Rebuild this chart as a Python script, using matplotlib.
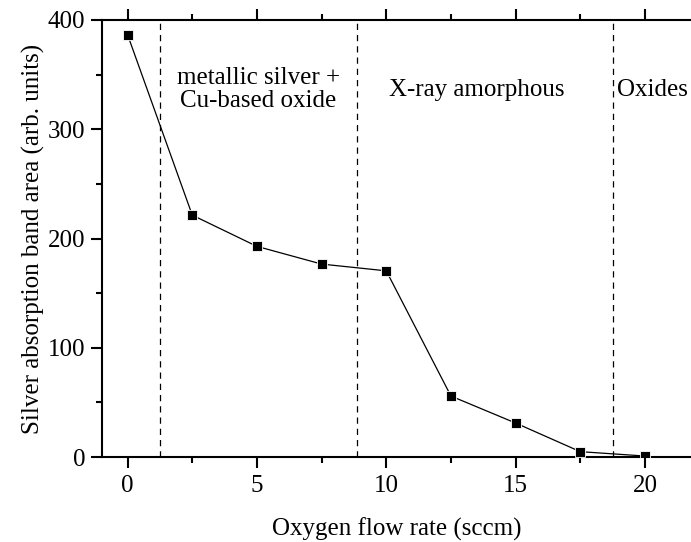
import matplotlib
matplotlib.use('Agg')
import matplotlib.pyplot as plt
from matplotlib.ticker import MultipleLocator

# Data
flow_rate = [0, 2.5, 5, 7.5, 10, 12.5, 15, 17.5, 20]
band_area = [386.5, 221.4, 192.8, 176.6, 170.4, 55.8, 31.1, 4.9, 0.9]

# Region boundaries (sccm)
boundaries = [1.25, 8.85, 18.75]
region_labels = ['metallic silver +\nCu-based oxide', 'X-ray amorphous', 'Oxides']
label_x = [5.05, 13.5, 20.3]
label_y = [336, 336, 336]

plt.rcParams['font.family'] = ['Liberation Serif', 'DejaVu Serif']

fig = plt.figure(figsize=(6.91, 5.42), dpi=100)
ax = fig.add_axes([0.1472, 0.1568, 0.8528, 0.8063])

ax.plot(flow_rate, band_area, color='black', lw=0.9, marker='s', ms=7.5,
        mfc='black', mec='white', mew=0.6, zorder=3)

for b in boundaries:
    ax.axvline(b, color='black', lw=0.9, ls=(0, (5, 4)))

for lx, ly, txt in zip(label_x, label_y, region_labels):
    ax.text(lx, ly, txt, ha='center', va='center', fontsize=18, linespacing=1.05)

ax.set_xlim(-1, 21.78)
ax.set_ylim(0, 400)
ax.xaxis.set_major_locator(MultipleLocator(5))
ax.xaxis.set_minor_locator(MultipleLocator(2.5))
ax.yaxis.set_major_locator(MultipleLocator(100))
ax.yaxis.set_minor_locator(MultipleLocator(50))

ax.spines['right'].set_visible(False)
for s in ['left', 'top', 'bottom']:
    ax.spines[s].set_linewidth(1.5)

ax.tick_params(which='both', direction='out', top=True, right=False, width=1.5, labelsize=18)
ax.tick_params(which='major', length=8)
ax.tick_params(which='minor', length=4.5)
ax.tick_params(axis='y', pad=4)
ax.tick_params(axis='x', pad=5)

ax.set_xlabel('Oxygen flow rate (sccm)', fontsize=18, labelpad=15)
ax.set_ylabel('Silver absorption band area (arb. units)', fontsize=18, labelpad=2)

fig.savefig('out.png', dpi=100)
